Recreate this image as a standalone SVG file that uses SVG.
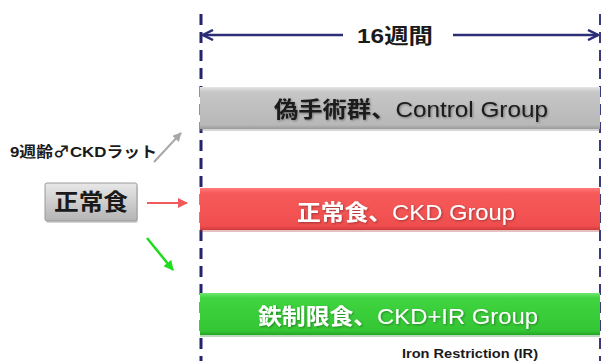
<svg xmlns="http://www.w3.org/2000/svg" width="602" height="361" viewBox="0 0 602 361">
<style>
.t{font-family:"Liberation Sans","Noto Sans CJK JP",sans-serif;font-weight:bold}
.n{font-weight:normal}
.bar{stroke:none}
.lbl{font-size:22px;text-anchor:middle;dominant-baseline:central}
.w{fill:#ffffff}
.d{fill:#1a1a1a}
.guide{stroke:#23236e;stroke-width:3;stroke-dasharray:11 7;fill:none}
</style>
<defs>
<linearGradient id="gGray" x1="0" y1="0" x2="0" y2="1">
<stop offset="0" stop-color="#e6e6e6"/><stop offset="0.12" stop-color="#c6c6c6"/><stop offset="0.9" stop-color="#b8b8b8"/><stop offset="1" stop-color="#9a9a9a"/>
</linearGradient>
<linearGradient id="gRed" x1="0" y1="0" x2="0" y2="1">
<stop offset="0" stop-color="#ff7a7a"/><stop offset="0.12" stop-color="#f75a5a"/><stop offset="0.9" stop-color="#f04e4e"/><stop offset="1" stop-color="#d03a3a"/>
</linearGradient>
<linearGradient id="gGreen" x1="0" y1="0" x2="0" y2="1">
<stop offset="0" stop-color="#6ee86e"/><stop offset="0.12" stop-color="#40d440"/><stop offset="0.9" stop-color="#34c634"/><stop offset="1" stop-color="#24a424"/>
</linearGradient>
<linearGradient id="gBox" x1="0" y1="0" x2="0" y2="1">
<stop offset="0" stop-color="#e8e8e8"/><stop offset="1" stop-color="#b4b4b4"/>
</linearGradient>
<filter id="sh" x="-5%" y="-20%" width="110%" height="140%">
<feDropShadow dx="1" dy="1" stdDeviation="0.8" flood-color="#000000" flood-opacity="0.35"/>
</filter>
<marker id="mNavyL" viewBox="0 0 12 12" refX="1" refY="6" markerWidth="12" markerHeight="12" markerUnits="userSpaceOnUse" orient="auto">
<path d="M11 1 L1 6 L11 11" fill="none" stroke="#2e2e78" stroke-width="2.5"/>
</marker>
<marker id="mNavyR" viewBox="0 0 12 12" refX="11" refY="6" markerWidth="12" markerHeight="12" markerUnits="userSpaceOnUse" orient="auto">
<path d="M1 1 L11 6 L1 11" fill="none" stroke="#2e2e78" stroke-width="2.5"/>
</marker>
<marker id="mGray" viewBox="0 0 10 10" refX="9" refY="5" markerWidth="9" markerHeight="9" markerUnits="userSpaceOnUse" orient="auto">
<path d="M0 0 L10 5 L0 10 Z" fill="#a8a8a8"/>
</marker>
<marker id="mRed" viewBox="0 0 10 10" refX="9" refY="5" markerWidth="10" markerHeight="10" markerUnits="userSpaceOnUse" orient="auto">
<path d="M0 0 L10 5 L0 10 Z" fill="#f05a5a"/>
</marker>
<marker id="mGreen" viewBox="0 0 10 10" refX="9" refY="5" markerWidth="10" markerHeight="10" markerUnits="userSpaceOnUse" orient="auto">
<path d="M0 0 L10 5 L0 10 Z" fill="#1fdc1f"/>
</marker>
</defs>
<rect width="602" height="361" fill="#ffffff"/>

<g id="timeline">
<line class="guide" x1="201" y1="14" x2="201" y2="361"/>
<line x1="600" y1="14" x2="600" y2="361" stroke="#3a3a78" stroke-width="2" stroke-dasharray="11 7"/>
<line x1="203" y1="35" x2="343" y2="35" stroke="#2e2e78" stroke-width="2.5" marker-start="url(#mNavyL)"/>
<line x1="453" y1="35" x2="598" y2="35" stroke="#2e2e78" stroke-width="2.5" marker-end="url(#mNavyR)"/>
<text class="t d" x="395" y="43" font-size="21" text-anchor="middle" textLength="76" lengthAdjust="spacingAndGlyphs">16週間</text>
</g>

<g id="control">
<rect x="200" y="89" width="400" height="42" fill="#8a8a8a" opacity="0.35"/>
<rect class="bar" x="200" y="87" width="400" height="42" fill="url(#gGray)"/>
<text class="t d lbl" x="411" y="109" textLength="274" lengthAdjust="spacingAndGlyphs" filter="url(#sh)">偽手術群、<tspan class="n">Control Group</tspan></text>
</g>

<g id="ckd">
<rect x="200" y="190" width="400" height="42" fill="#aa3030" opacity="0.3"/>
<rect class="bar" x="200" y="188" width="400" height="42" fill="url(#gRed)"/>
<text class="t w lbl" x="406" y="212" textLength="218" lengthAdjust="spacingAndGlyphs" filter="url(#sh)">正常食、<tspan class="n">CKD Group</tspan></text>
</g>

<g id="ckdir">
<rect x="200" y="295" width="400" height="42" fill="#208020" opacity="0.3"/>
<rect class="bar" x="200" y="293" width="400" height="42" fill="url(#gGreen)"/>
<text class="t w lbl" x="398" y="316" textLength="280" lengthAdjust="spacingAndGlyphs" filter="url(#sh)">鉄制限食、<tspan class="n">CKD+IR Group</tspan></text>
<text class="t d" x="470" y="358" font-size="13" text-anchor="middle" textLength="136" lengthAdjust="spacingAndGlyphs">Iron Restriction (IR)</text>
</g>

<g id="rats">
<text class="t d" x="10" y="157" font-size="15" textLength="147" lengthAdjust="spacingAndGlyphs">9週齢<tspan font-family="'Noto Sans CJK JP',sans-serif">♂</tspan>CKDラット</text>
</g>

<g id="diet">
<rect x="46" y="185" width="92" height="38" rx="2" fill="#888888" opacity="0.35"/>
<rect x="45" y="183" width="92" height="38" rx="2" fill="url(#gBox)" stroke="#9a9a9a" stroke-width="1"/>
<text class="t d" x="91" y="210" font-size="23" text-anchor="middle" textLength="74" lengthAdjust="spacingAndGlyphs">正常食</text>
</g>

<g id="connectors">
<line x1="154" y1="162" x2="181" y2="133" stroke="#a8a8a8" stroke-width="2" marker-end="url(#mGray)"/>
<line x1="147" y1="203" x2="187" y2="203" stroke="#f05a5a" stroke-width="2" marker-end="url(#mRed)"/>
<line x1="147" y1="238" x2="173" y2="270" stroke="#1fdc1f" stroke-width="2.5" marker-end="url(#mGreen)"/>
</g>
</svg>
